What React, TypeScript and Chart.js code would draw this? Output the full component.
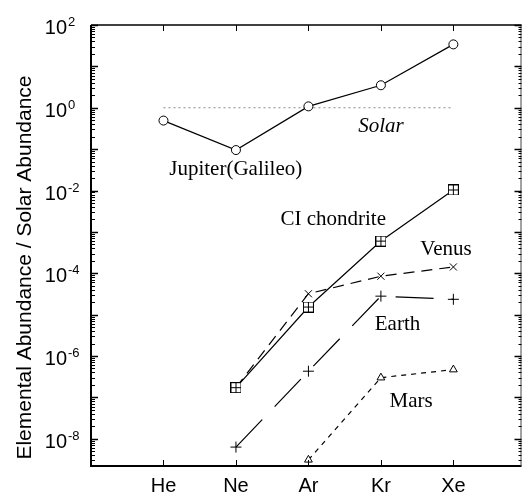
import React, { useEffect, useRef } from 'react';
import { Chart, registerables } from 'chart.js';

Chart.register(...registerables);

const categories = ['He', 'Ne', 'Ar', 'Kr', 'Xe'];
const jupiter = [0.49, 0.095, 1.08, 3.5, 34];
const ciChondrite = [null, 1.72e-7, 1.53e-5, 6.0e-4, 1.03e-2];
const venus = [null, 1.72e-7, 3.2e-5, 8.5e-5, 1.42e-4];
const earth = [null, 6.3e-9, 4.3e-7, 2.8e-5, 2.35e-5];
const mars = [null, null, 3.1e-9, 3.0e-7, 4.7e-7];
const solar = [1, 1, 1, 1, 1];

const yMin = 2.2e-9;
const yMax = 100;
const xMin = 0;
const xMax = 5.94;
const yLabelExponents = [2, 0, -2, -4, -6, -8];
const yTickExponents = [2, 1, 0, -1, -2, -3, -4, -5, -6, -7, -8, -9];
const yTitle = 'Elemental Abundance / Solar Abundance';

const annotationTexts = ['Solar', 'Jupiter(Galileo)', 'CI chondrite', 'Venus', 'Earth', 'Mars'];
const annotationX = [4.0, 1.08, 2.614, 4.544, 3.915, 4.12];
const annotationY = [0.26, 0.0237, 1.47e-3, 2.77e-4, 4.26e-6, 5.9e-8];
const annotationAlign: CanvasTextAlign[] = ['center', 'left', 'left', 'left', 'left', 'left'];
const annotationItalic = [true, false, false, false, false, false];

const toPoints = (vals: (number | null)[]) =>
  vals.map((v, i) => ({ x: i + 1, y: v })).filter((p) => p.y !== null) as { x: number; y: number }[];

function makeBoxPlus(): HTMLCanvasElement {
  const c = document.createElement('canvas');
  c.width = 11;
  c.height = 11;
  const g = c.getContext('2d')!;
  g.fillStyle = '#fff';
  g.fillRect(0, 0, 11, 11);
  g.strokeStyle = '#000';
  g.lineWidth = 1;
  g.strokeRect(0.5, 0.5, 10, 10);
  g.beginPath();
  g.moveTo(5.5, 0.5);
  g.lineTo(5.5, 10.5);
  g.moveTo(0.5, 5.5);
  g.lineTo(10.5, 5.5);
  g.stroke();
  return c;
}

const framePlugin = {
  id: 'framePlugin',
  afterDraw(chart: any) {
    const ctx: CanvasRenderingContext2D = chart.ctx;
    const { left, right, top, bottom } = chart.chartArea;
    const xs = chart.scales.x;
    const ys = chart.scales.y;
    ctx.save();
    ctx.strokeStyle = '#000';
    // frame
    ctx.lineWidth = 2;
    ctx.beginPath();
    ctx.moveTo(left, top);
    ctx.lineTo(left, bottom);
    ctx.lineTo(right, bottom);
    ctx.stroke();
    ctx.lineWidth = 1.5;
    ctx.beginPath();
    ctx.moveTo(left, top);
    ctx.lineTo(right, top);
    ctx.stroke();
    ctx.strokeStyle = '#444';
    ctx.lineWidth = 1;
    ctx.beginPath();
    ctx.moveTo(right - 0.5, top);
    ctx.lineTo(right - 0.5, bottom);
    ctx.stroke();

    // y ticks
    ctx.strokeStyle = '#000';
    for (const e of yTickExponents) {
      const v = Math.pow(10, e);
      if (v >= yMin && v <= yMax) {
        const py = Math.round(ys.getPixelForValue(v)) + 0.5;
        ctx.lineWidth = 1.5;
        ctx.beginPath();
        ctx.moveTo(left, py);
        ctx.lineTo(left + 7, py);
        ctx.moveTo(right, py);
        ctx.lineTo(right - 7, py);
        ctx.stroke();
      }
      ctx.lineWidth = 1;
      for (let k = 2; k <= 9; k++) {
        const mv = k * v;
        if (mv < yMin || mv > yMax) continue;
        const py = Math.round(ys.getPixelForValue(mv)) + 0.5;
        ctx.beginPath();
        ctx.moveTo(left, py);
        ctx.lineTo(left + 4, py);
        ctx.moveTo(right, py);
        ctx.lineTo(right - 3, py);
        ctx.stroke();
      }
    }
    // x ticks
    ctx.lineWidth = 1;
    categories.forEach((_, i) => {
      const px = Math.round(xs.getPixelForValue(i + 1)) + 0.5;
      ctx.beginPath();
      ctx.moveTo(px, top);
      ctx.lineTo(px, top + 6);
      ctx.moveTo(px, bottom);
      ctx.lineTo(px, bottom - 6);
      ctx.stroke();
    });

    // x labels
    ctx.fillStyle = '#000';
    ctx.font = '20px "Liberation Sans", Arial, sans-serif';
    ctx.textAlign = 'center';
    ctx.textBaseline = 'alphabetic';
    categories.forEach((c, i) => {
      ctx.fillText(c, xs.getPixelForValue(i + 1), bottom + 25.5);
    });

    // y labels
    for (const e of yLabelExponents) {
      const py = ys.getPixelForValue(Math.pow(10, e));
      ctx.font = '20px "Liberation Sans", Arial, sans-serif';
      ctx.textAlign = 'right';
      ctx.fillText('10', left - 24, py + 9);
      ctx.font = '13px "Liberation Sans", Arial, sans-serif';
      ctx.textAlign = 'left';
      ctx.fillText(String(e), left - 23, py + 1);
    }

    // y title
    ctx.save();
    ctx.translate(left - 66, (top + bottom) / 2 + 22);
    ctx.rotate(-Math.PI / 2);
    ctx.font = '21px "Liberation Sans", Arial, sans-serif';
    ctx.textAlign = 'center';
    ctx.textBaseline = 'middle';
    ctx.fillText(yTitle, 0, 0);
    ctx.restore();

    // annotations
    annotationTexts.forEach((t, i) => {
      ctx.font = (annotationItalic[i] ? 'italic ' : '') + '21px "Liberation Serif", "Times New Roman", serif';
      ctx.textAlign = annotationAlign[i];
      ctx.textBaseline = 'alphabetic';
      ctx.fillText(t, xs.getPixelForValue(annotationX[i]), ys.getPixelForValue(annotationY[i]));
    });
    ctx.restore();
  },
};

export default function App() {
  const ref = useRef<HTMLCanvasElement | null>(null);
  useEffect(() => {
    if (!ref.current) return;
    const boxPlus = makeBoxPlus();
    const common = {
      borderColor: '#000',
      borderWidth: 1.2,
      tension: 0,
      fill: false,
      pointBorderColor: '#000',
      pointBackgroundColor: '#fff',
      pointBorderWidth: 1,
    };
    const chart = new Chart(ref.current, {
      type: 'line',
      data: {
        datasets: [
          { ...common, label: 'Jupiter(Galileo)', data: toPoints(jupiter), pointStyle: 'circle', pointRadius: 4.5 },
          { ...common, label: 'CI chondrite', data: toPoints(ciChondrite), pointStyle: boxPlus as any, pointRadius: 5 },
          { ...common, label: 'Venus', data: toPoints(venus), pointStyle: 'crossRot', pointRadius: 5, borderDash: [11, 7] },
          { ...common, label: 'Earth', data: toPoints(earth), pointStyle: 'cross', pointRadius: 5.5, borderDash: [38, 18] },
          { ...common, label: 'Mars', data: toPoints(mars), pointStyle: 'triangle', pointRadius: 4.5, borderDash: [5, 5] },
          {
            label: 'Solar',
            data: toPoints(solar),
            borderColor: '#888',
            borderWidth: 1,
            borderDash: [2, 3],
            pointRadius: 0,
            tension: 0,
            fill: false,
          },
        ],
      },
      options: {
        animation: false,
        responsive: false,
        devicePixelRatio: 1,
        layout: { padding: { top: 25, right: 3, left: 0, bottom: 0 } },
        plugins: { legend: { display: false }, tooltip: { enabled: false } },
        scales: {
          x: {
            type: 'linear',
            min: xMin,
            max: xMax,
            ticks: { display: false },
            grid: { display: false, drawTicks: false },
            border: { display: false },
            afterFit: (s: any) => {
              s.height = 28;
            },
          },
          y: {
            type: 'logarithmic',
            min: yMin,
            max: yMax,
            ticks: { display: false },
            grid: { display: false, drawTicks: false },
            border: { display: false },
            afterFit: (s: any) => {
              s.width = 91;
            },
          },
        },
      },
      plugins: [framePlugin],
    } as any);
    return () => chart.destroy();
  }, []);
  return (
    <div style={{ position: 'absolute', left: 0, top: 0, width: 528, height: 494, background: '#fff' }}>
      <canvas ref={ref} width={528} height={494} style={{ display: 'block', width: 528, height: 494 }} />
    </div>
  );
}
